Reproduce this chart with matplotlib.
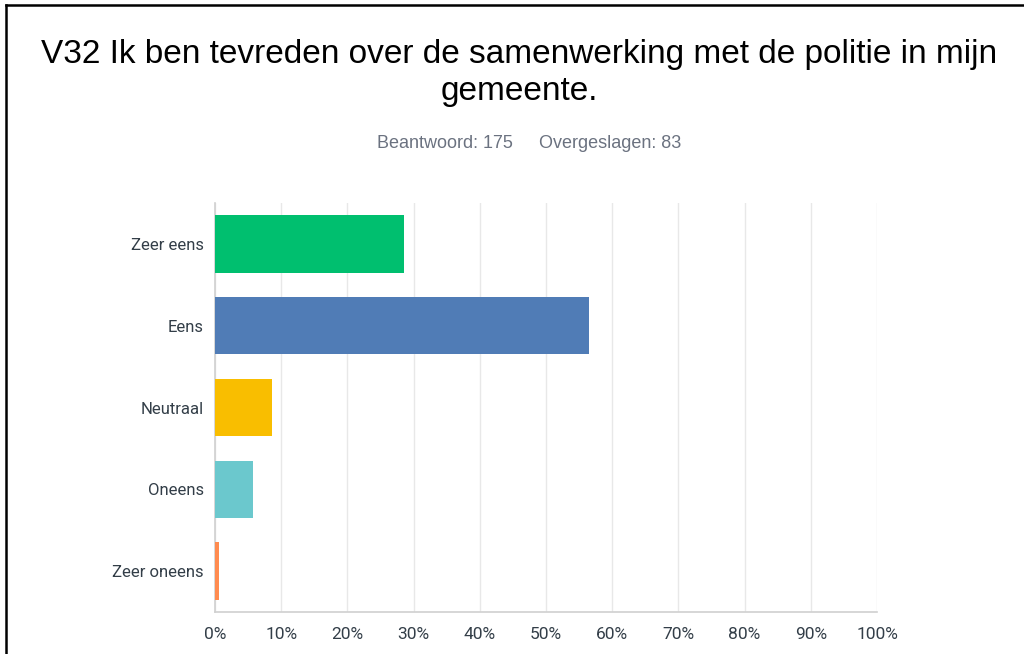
import matplotlib.pyplot as plt
from matplotlib.lines import Line2D
import numpy as np

# --- data --- #
categories = ["Zeer eens", "Eens", "Neutraal", "Oneens", "Zeer oneens"]
percentages = [28.57, 56.57, 8.57, 5.71, 0.57]
colors = ["#00bf6f", "#507cb6", "#f9be00", "#6bc8cd", "#ff8b4f"]
xticks = [0, 10, 20, 30, 40, 50, 60, 70, 80, 90, 100]
title = "V32 Ik ben tevreden over de samenwerking met de politie in mijn\ngemeente."
subtitle_left = "Beantwoord: 175"
subtitle_right = "Overgeslagen: 83"

fig = plt.figure(figsize=(10.24, 6.54), dpi=100)
fig.patch.set_facecolor("white")

# frame lines (top and left) like the screenshot border
fig.add_artist(Line2D([6/1024, 1.0], [1 - 5/654, 1 - 5/654], color="black", lw=1.8))
fig.add_artist(Line2D([6/1024, 6/1024], [0.0, 1 - 5/654], color="black", lw=1.8))

fig.text(519/1024, 1 - 73/654, title, ha="center", va="center", fontsize=24,
         family="Liberation Sans", color="#000000", linespacing=1.25)
fig.text(513/1024, 1 - 144/654, subtitle_left, ha="right", va="center",
         fontsize=13, family="Liberation Sans", color="#6b7280")
fig.text(539/1024, 1 - 144/654, subtitle_right, ha="left", va="center",
         fontsize=13, family="Liberation Sans", color="#6b7280")

ax = fig.add_axes([215/1024, 1 - 612/654, 662/1024, 409/654])
y = np.arange(len(categories))
ax.barh(y, percentages, height=0.7, color=colors, zorder=3)
ax.set_ylim(len(categories) - 0.5, -0.5)
ax.set_xlim(0, 100)

ax.set_xticks(xticks)
ax.set_xticklabels(["%d%%" % v for v in xticks])
ax.set_yticks(y)
ax.set_yticklabels(categories)
ax.tick_params(axis="both", length=0, labelsize=12, colors="#333e48")
ax.tick_params(axis="y", pad=8)
ax.tick_params(axis="x", pad=11, labelsize=12.5)
for lab in ax.get_xticklabels() + ax.get_yticklabels():
    lab.set_family("Roboto")

ax.grid(axis="x", color="#e8e8e8", lw=1, zorder=0)
for side in ["top", "right"]:
    ax.spines[side].set_visible(False)
ax.spines["left"].set_color("#d0d0d0")
ax.spines["bottom"].set_color("#d0d0d0")
ax.spines["left"].set_linewidth(1.2)
ax.spines["bottom"].set_linewidth(1.2)

plt.savefig("out.png", dpi=100)
